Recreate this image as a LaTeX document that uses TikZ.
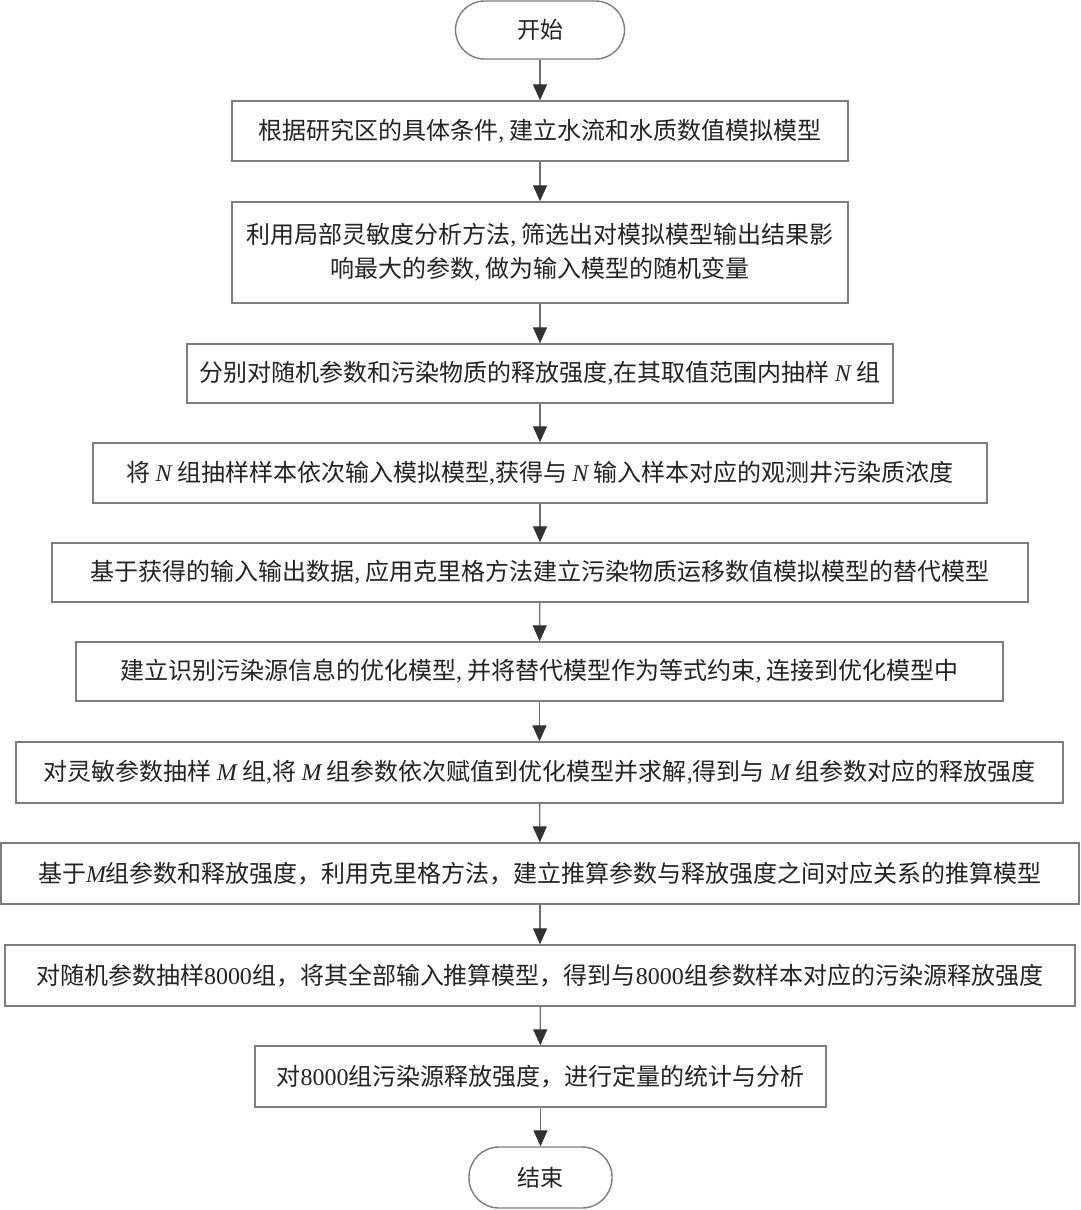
\documentclass[tikz,border=0pt]{standalone}
\usepackage{fontspec}
\setmainfont{Noto Sans CJK SC}
\newfontfamily\lat{Liberation Serif}
\usetikzlibrary{arrows.meta}
\newcommand{\vN}{{\lat\itshape N}}
\newcommand{\vM}{{\lat\itshape M}}
\newcommand{\lc}{{\lat ,}}
\newcommand{\dig}[1]{{\lat #1}}
\definecolor{boxgray}{RGB}{125,125,125}
\definecolor{linegray}{RGB}{110,110,110}
\definecolor{tipgray}{RGB}{50,50,50}
\definecolor{txt}{RGB}{35,35,35}
\tikzset{
  box/.style={draw=boxgray, line width=1.4pt, rectangle, inner sep=0pt, text=txt, align=center, font=\fontsize{24pt}{34pt}\selectfont},
  term/.style={draw=boxgray, line width=1.4pt, rectangle, rounded corners=29pt, inner sep=0pt, text=txt, font=\fontsize{23pt}{28pt}\selectfont},
  arr/.style={draw=linegray, line width=1.3pt, -{Triangle[length=16pt,width=14pt,color=tipgray]}}
}
\begin{document}
\begin{tikzpicture}[x=1pt,y=-1pt]
\fill[white] (0,0) rectangle (1080,1210);
\useasboundingbox (0,0) rectangle (1080,1210);
\node[term, minimum width=169pt, minimum height=58pt] (s) at (540,30) {开始};
\node[box, minimum width=616pt, minimum height=60pt] (b1) at (540,131) {根据研究区的具体条件\lc{} 建立水流和水质数值模拟模型};
\node[box, minimum width=616pt, minimum height=101pt] (b2) at (540,252.5) {利用局部灵敏度分析方法\lc{} 筛选出对模拟模型输出结果影\\响最大的参数\lc{} 做为输入模型的随机变量};
\node[box, minimum width=706pt, minimum height=59pt] (b3) at (540,373.5) {分别对随机参数和污染物质的释放强度\lc 在其取值范围内抽样 \vN{} 组};
\node[box, minimum width=894pt, minimum height=60pt] (b4) at (540,473) {将 \vN{} 组抽样样本依次输入模拟模型\lc 获得与 \vN{} 输入样本对应的观测井污染质浓度};
\node[box, minimum width=976pt, minimum height=59pt] (b5) at (540,572.5) {基于获得的输入输出数据\lc{} 应用克里格方法建立污染物质运移数值模拟模型的替代模型};
\node[box, minimum width=927pt, minimum height=59pt] (b6) at (539.5,671.5) {建立识别污染源信息的优化模型\lc{} 并将替代模型作为等式约束\lc{} 连接到优化模型中};
\node[box, minimum width=1047pt, minimum height=61pt] (b7) at (539.5,772.5) {对灵敏参数抽样 \vM{} 组\lc 将 \vM{} 组参数依次赋值到优化模型并求解\lc 得到与 \vM{} 组参数对应的释放强度};
\node[box, minimum width=1078pt, minimum height=61pt] (b8) at (540,873.5) {基于\vM 组参数和释放强度，利用克里格方法，建立推算参数与释放强度之间对应关系的推算模型};
\node[box, minimum width=1070pt, minimum height=61pt] (b9) at (540,975.5) {对随机参数抽样\dig{8000}组，将其全部输入推算模型，得到与\dig{8000}组参数样本对应的污染源释放强度};
\node[box, minimum width=571pt, minimum height=61pt] (b10) at (540.5,1076.5) {对\dig{8000}组污染源释放强度，进行定量的统计与分析};
\node[term, minimum width=143pt, minimum height=61pt, rounded corners=30pt] (e) at (540.5,1177.5) {结束};
\draw[arr] (s) -- (b1);
\draw[arr] (b1) -- (b2);
\draw[arr] (b2) -- (b3);
\draw[arr] (b3) -- (b4);
\draw[arr] (b4) -- (b5);
\draw[arr] (b5) -- (b6);
\draw[arr] (b6) -- (b7);
\draw[arr] (b7) -- (b8);
\draw[arr] (b8) -- (b9);
\draw[arr] (b9) -- (b10);
\draw[arr] (b10) -- (e);
\end{tikzpicture}
\end{document}
